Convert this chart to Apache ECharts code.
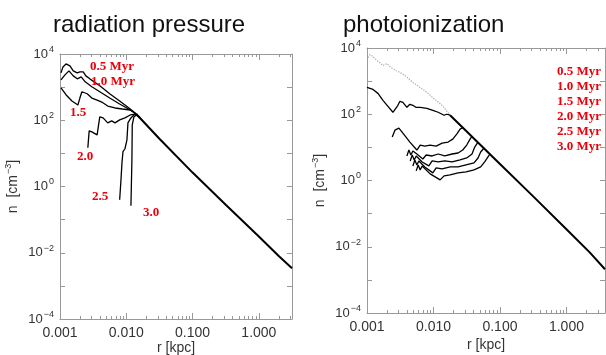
<!DOCTYPE html>
<html>
<head>
<meta charset="utf-8">
<script src="https://cdn.jsdelivr.net/npm/echarts@6/dist/echarts.min.js"></script>
<style>
  html, body { margin: 0; padding: 0; background: #fff; }
  #chart { width: 606px; height: 355px; }
</style>
</head>
<body>
<div id="chart"></div>
<script>
// all profiles are [log10 r (kpc), log10 n (cm^-3)]

// radiation pressure panel
const radEnvelope = [[-1.85, 2.19], [-1.5, 1.44], [-1.0, 0.42], [-0.5, -0.55], [0, -1.51], [0.3, -2.1], [0.5, -2.47]];
const rad05 = [[-2.985, 3.43], [-2.955, 3.61], [-2.91, 3.70], [-2.85, 3.64], [-2.80, 3.49], [-2.74, 3.43], [-2.70, 3.46], [-2.65, 3.46], [-2.61, 3.34], [-2.55, 3.25], [-2.40, 3.04], [-2.25, 2.80], [-2.10, 2.58], [-1.94, 2.34], [-1.85, 2.19]];
const rad10 = [[-2.985, 3.22], [-2.925, 3.37], [-2.865, 3.49], [-2.80, 3.34], [-2.74, 3.25], [-2.68, 3.31], [-2.62, 3.16], [-2.52, 3.01], [-2.40, 2.86], [-2.25, 2.67], [-2.10, 2.49], [-1.94, 2.31], [-1.85, 2.19]];
const rad15 = [[-2.985, 2.98], [-2.91, 2.77], [-2.82, 2.58], [-2.73, 2.46], [-2.70, 2.67], [-2.67, 2.86], [-2.59, 2.80], [-2.52, 2.67], [-2.44, 2.61], [-2.37, 2.55], [-2.28, 2.43], [-2.17, 2.37], [-2.06, 2.34], [-1.94, 2.31], [-1.85, 2.19]];
const rad20 = [[-2.58, 1.17], [-2.56, 1.68], [-2.52, 1.65], [-2.44, 1.56], [-2.40, 2.10], [-2.35, 2.07], [-2.28, 1.92], [-2.22, 1.98], [-2.17, 1.92], [-2.10, 2.01], [-2.02, 2.07], [-1.94, 2.16], [-1.85, 2.19]];
const rad25 = [[-2.10, -0.40], [-2.08, 0.20], [-2.065, 0.72], [-2.05, 1.05], [-2.02, 1.14], [-1.99, 1.41], [-1.975, 1.92], [-1.93, 2.07], [-1.885, 2.16], [-1.85, 2.19]];
const rad30 = [[-1.93, -0.58], [-1.915, 0.81], [-1.91, 1.86], [-1.885, 2.10], [-1.85, 2.16], [-1.79, 2.07]];

// photoionization panel
const phoInitial = [[-2.985, 3.71], [-2.955, 3.80], [-2.91, 3.74], [-2.85, 3.62], [-2.805, 3.56], [-2.76, 3.47], [-2.70, 3.53], [-2.64, 3.41], [-2.565, 3.32], [-2.50, 3.26], [-2.41, 3.14], [-2.31, 2.96], [-2.20, 2.81], [-2.10, 2.66], [-1.98, 2.45], [-1.87, 2.27], [-1.75, 1.97]];
const phoEnvelope = [[-1.75, 1.97], [-1.5, 1.48], [-1.0, 0.5], [-0.5, -0.48], [0, -1.47], [0.35, -2.17], [0.58, -2.68]];
const pho05 = [[-3.0, 2.81], [-2.91, 2.75], [-2.835, 2.63], [-2.76, 2.42], [-2.685, 2.24], [-2.61, 2.06], [-2.58, 2.0], [-2.535, 2.27], [-2.505, 2.39], [-2.46, 2.36], [-2.40, 2.21], [-2.355, 2.30], [-2.31, 2.27], [-2.265, 2.21], [-2.20, 2.21], [-2.10, 2.18], [-2.01, 2.12], [-1.93, 2.06], [-1.84, 1.97], [-1.80, 2.0], [-1.75, 1.97]];
const pho10 = [[-2.62, 1.31], [-2.58, 1.52], [-2.52, 1.58], [-2.46, 1.43], [-2.355, 1.16], [-2.25, 0.92], [-2.20, 1.07], [-2.13, 1.04], [-2.05, 1.07], [-1.96, 1.04], [-1.87, 1.13], [-1.78, 1.16], [-1.71, 1.25], [-1.65, 1.40], [-1.60, 1.55], [-1.556, 1.60]];
const pho15 = [[-2.40, 0.74], [-2.37, 0.92], [-2.34, 0.77], [-2.31, 0.89], [-2.25, 0.80], [-2.16, 0.65], [-2.11, 0.77], [-2.02, 0.74], [-1.93, 0.80], [-1.83, 0.74], [-1.72, 0.80], [-1.63, 0.83], [-1.56, 0.92], [-1.50, 1.07], [-1.45, 1.25], [-1.42, 1.34]];
const pho20 = [[-2.35, 0.59], [-2.32, 0.77], [-2.29, 0.62], [-2.26, 0.74], [-2.17, 0.56], [-2.07, 0.44], [-2.02, 0.59], [-1.93, 0.56], [-1.83, 0.59], [-1.72, 0.56], [-1.60, 0.62], [-1.50, 0.68], [-1.42, 0.80], [-1.38, 1.01], [-1.33, 1.16]];
const pho25 = [[-2.31, 0.44], [-2.28, 0.62], [-2.25, 0.47], [-2.22, 0.59], [-2.13, 0.41], [-2.01, 0.23], [-1.96, 0.38], [-1.87, 0.35], [-1.75, 0.41], [-1.63, 0.41], [-1.51, 0.47], [-1.39, 0.53], [-1.33, 0.68], [-1.29, 0.86], [-1.24, 0.98]];
const pho30 = [[-2.26, 0.29], [-2.23, 0.47], [-2.20, 0.32], [-2.17, 0.44], [-2.05, 0.20], [-1.90, 0.02], [-1.84, 0.14], [-1.75, 0.17], [-1.63, 0.23], [-1.51, 0.26], [-1.39, 0.32], [-1.29, 0.41], [-1.23, 0.56], [-1.18, 0.71], [-1.15, 0.80]];

const radLabels = ["0.5 Myr", "1.0 Myr", "1.5", "2.0", "2.5", "3.0"];
const phoLabels = ["0.5 Myr", "1.0 Myr", "1.5 Myr", "2.0 Myr", "2.5 Myr", "3.0 Myr"];

const xDecades = [0.001, 0.01, 0.1, 1];
const yDecades = [1e-4, 1e-3, 1e-2, 1e-1, 1, 1e1, 1e2, 1e3, 1e4];
const yLabelled = [1e-4, 1e-2, 1, 1e2, 1e4];

// minor ticks at 2..9 of each decade
const xMinor = [];
[0.001, 0.01, 0.1, 1].forEach((d) => {
  for (let k = 2; k <= 9; k++) xMinor.push(d * k);
});

const toPts = (arr) => arr.map((p) => [Math.pow(10, p[0]), Math.pow(10, p[1])]);

const chart = echarts.init(document.getElementById("chart"), null, { renderer: "canvas" });

const axisGrey = "#999";
const font = "Liberation Sans";

function xAxisDef(gridIndex, max, position, minor, nameGap) {
  return {
    type: "log",
    logBase: 10,
    gridIndex,
    position,
    min: 0.001,
    max,
    axisLine: { show: !minor, onZero: false, lineStyle: { color: axisGrey, width: 1 } },
    axisTick: {
      show: true,
      inside: true,
      length: minor ? 3 : 6,
      customValues: minor ? xMinor : xDecades,
      lineStyle: { color: axisGrey },
    },
    axisLabel: {
      show: !minor && position === "bottom",
      customValues: xDecades,
      formatter: (v) => Number(v).toFixed(3),
      fontFamily: font,
      fontSize: 14,
      color: "#333",
      margin: 7,
    },
    splitLine: { show: false },
    minorTick: { show: false },
    name: !minor && position === "bottom" ? "r [kpc]" : "",
    nameLocation: "middle",
    nameGap: nameGap || 23,
    nameMoveOverlap: false,
    nameTextStyle: { fontFamily: font, fontSize: 14, color: "#333" },
  };
}

const supRich = {
  b: { fontFamily: font, fontSize: 13, color: "#333" },
  s: { fontFamily: font, fontSize: 9, color: "#333", padding: [0, 0, 9, 1] },
};

function yAxisDef(gridIndex, position, labelled) {
  return {
    type: "log",
    logBase: 10,
    gridIndex,
    position,
    min: 1e-4,
    max: 1e4,
    axisLine: { show: true, onZero: false, lineStyle: { color: axisGrey, width: 1 } },
    axisTick: {
      show: true,
      inside: true,
      length: 5,
      customValues: yDecades,
      lineStyle: { color: axisGrey },
    },
    axisLabel: {
      show: labelled,
      customValues: yLabelled,
      margin: 6,
      formatter: (v) => {
        const e = Math.round(Math.log10(v));
        return "{b|10}{s|" + (e < 0 ? "\u2212" + -e : e) + "}";
      },
      rich: supRich,
    },
    splitLine: { show: false },
    name: labelled ? "n  [cm{s|\u22123}]" : "",
    nameLocation: "middle",
    nameRotate: 90,
    nameGap: 38,
    nameTextStyle: { fontFamily: font, fontSize: 14, color: "#333", rich: { s: { fontSize: 9, color: "#333", padding: [0, 0, 9, 1] } } },
  };
}

function curve(name, data, xIdx, yIdx, extra) {
  return Object.assign(
    {
      name,
      type: "line",
      xAxisIndex: xIdx,
      yAxisIndex: yIdx,
      data: toPts(data),
      showSymbol: false,
      symbol: "none",
      silent: true,
      lineStyle: { color: "#000", width: 1.3 },
      z: 3,
    },
    extra || {}
  );
}

const redText = (text, x, y) => ({
  type: "text",
  x,
  y,
  style: {
    text,
    font: 'bold 13px "Liberation Serif"',
    fill: "#e8000b",
    verticalAlign: "middle",
  },
  z: 10,
});

const leftMax = Math.pow(10, 0.5);
const rightMax = Math.pow(10, 0.58);

const option = {
  animation: false,
  backgroundColor: "#fff",
  title: [
    { text: "radiation pressure", left: 48, top: 8, textStyle: { fontFamily: font, fontSize: 24, fontWeight: "normal", color: "#111" } },
    { text: "photoionization", left: 338, top: 8, textStyle: { fontFamily: font, fontSize: 24, fontWeight: "normal", color: "#111" } },
  ],
  grid: [
    { left: 60, top: 54, width: 232, height: 265, containLabel: false, outerBoundsMode: "none" },
    { left: 367, top: 48, width: 238, height: 265, containLabel: false, outerBoundsMode: "none" },
  ],
  xAxis: [
    xAxisDef(0, leftMax, "bottom", false, 22),
    xAxisDef(0, leftMax, "bottom", true),
    xAxisDef(0, leftMax, "top", false),
    xAxisDef(0, leftMax, "top", true),
    xAxisDef(1, rightMax, "bottom", false, 25),
    xAxisDef(1, rightMax, "bottom", true),
    xAxisDef(1, rightMax, "top", false),
    xAxisDef(1, rightMax, "top", true),
  ],
  yAxis: [
    yAxisDef(0, "left", true),
    yAxisDef(0, "right", false),
    yAxisDef(1, "left", true),
    yAxisDef(1, "right", false),
  ],
  series: [
    curve("rad envelope", radEnvelope, 0, 0, { lineStyle: { color: "#000", width: 2 } }),
    curve("rad 0.5", rad05, 0, 0),
    curve("rad 1.0", rad10, 0, 0),
    curve("rad 1.5", rad15, 0, 0),
    curve("rad 2.0", rad20, 0, 0),
    curve("rad 2.5", rad25, 0, 0),
    curve("rad 3.0", rad30, 0, 0),
    curve("pho initial", phoInitial, 4, 2, { lineStyle: { color: "#b0b0b0", width: 1.3, type: "dotted" }, z: 2 }),
    curve("pho envelope", phoEnvelope, 4, 2, { lineStyle: { color: "#000", width: 2 } }),
    curve("pho 0.5", pho05, 4, 2),
    curve("pho 1.0", pho10, 4, 2),
    curve("pho 1.5", pho15, 4, 2),
    curve("pho 2.0", pho20, 4, 2),
    curve("pho 2.5", pho25, 4, 2),
    curve("pho 3.0", pho30, 4, 2),
  ],
  graphic: [
    redText(radLabels[0], 90, 67),
    redText(radLabels[1], 91, 82),
    redText(radLabels[2], 70, 113),
    redText(radLabels[3], 77, 157),
    redText(radLabels[4], 92, 197),
    redText(radLabels[5], 143, 213),
    ...phoLabels.map((t, i) => redText(t, 557, 72 + i * 15)),
  ],
};

chart.setOption(option);
</script>
</body>
</html>
